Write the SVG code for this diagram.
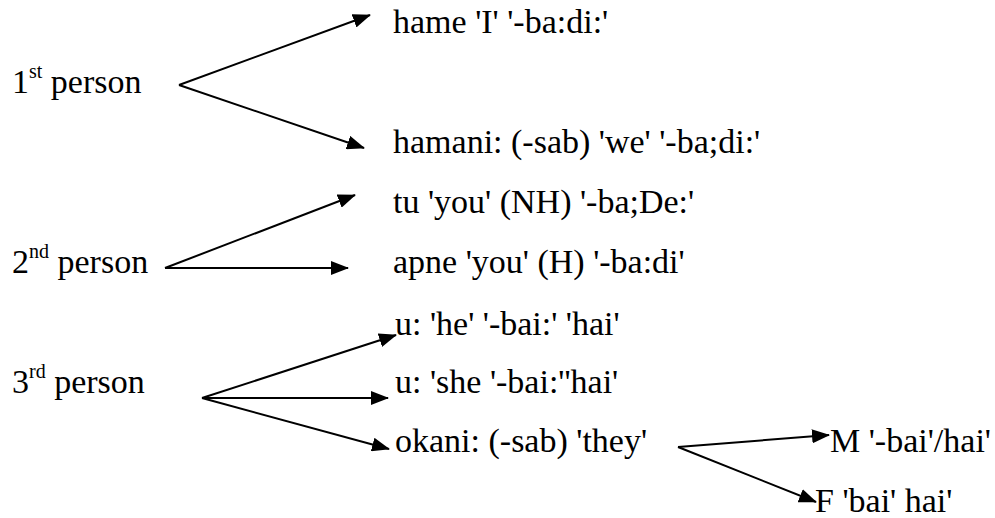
<svg xmlns="http://www.w3.org/2000/svg" width="995" height="518" viewBox="0 0 995 518">
  <style>
    .lbl { font-size: 34px; fill: #000; }
    .sup { font-size: 20px; }
    .edge { stroke: #000; stroke-width: 2; fill: none; marker-end: url(#arrow); }
  </style>
  <defs>
    <marker id="arrow" markerUnits="userSpaceOnUse" markerWidth="18" markerHeight="14" refX="17" refY="7" orient="auto">
      <path d="M0,0 L18,7 L0,14 z" fill="#000"/>
    </marker>
  </defs>
  <rect width="995" height="518" fill="#fff"/>

  <g id="connectors">
    <line class="edge" x1="179" y1="85" x2="370" y2="15"/>
    <line class="edge" x1="179" y1="85" x2="364" y2="148"/>
    <line class="edge" x1="165" y1="268" x2="355" y2="195"/>
    <line class="edge" x1="165" y1="268" x2="348" y2="268"/>
    <line class="edge" x1="202" y1="398" x2="396" y2="335"/>
    <line class="edge" x1="202" y1="398" x2="388" y2="398"/>
    <line class="edge" x1="202" y1="398" x2="389" y2="449"/>
    <line class="edge" x1="678" y1="447" x2="829" y2="435"/>
    <line class="edge" x1="678" y1="447" x2="816" y2="502"/>
  </g>

  <g class="lbl" font-family="Liberation Serif, DejaVu Serif, serif">
    <g id="first-person"><text x="12" y="93">1<tspan class="sup" dy="-15">st</tspan><tspan dy="15"> person</tspan></text></g>
    <g id="hame"><text x="393" y="33">hame 'I' '-ba:di:'</text></g>
    <g id="hamani"><text x="393" y="153">hamani: (-sab) 'we' '-ba;di:'</text></g>

    <g id="second-person"><text x="12" y="273">2<tspan class="sup" dy="-15">nd</tspan><tspan dy="15"> person</tspan></text></g>
    <g id="tu"><text x="393" y="213">tu 'you' (NH) '-ba;De:'</text></g>
    <g id="apne"><text x="393" y="273">apne 'you' (H) '-ba:di'</text></g>

    <g id="third-person"><text x="12" y="393">3<tspan class="sup" dy="-15">rd</tspan><tspan dy="15"> person</tspan></text></g>
    <g id="u-he"><text x="395" y="335">u: 'he' '-bai:' 'hai'</text></g>
    <g id="u-she"><text x="395" y="393">u: 'she '-bai:''hai'</text></g>
    <g id="okani"><text x="395" y="452">okani: (-sab) 'they'</text></g>

    <g id="masc"><text x="830" y="452">M '-bai'/hai'</text></g>
    <g id="fem"><text x="815" y="512">F 'bai' hai'</text></g>
  </g>
</svg>
